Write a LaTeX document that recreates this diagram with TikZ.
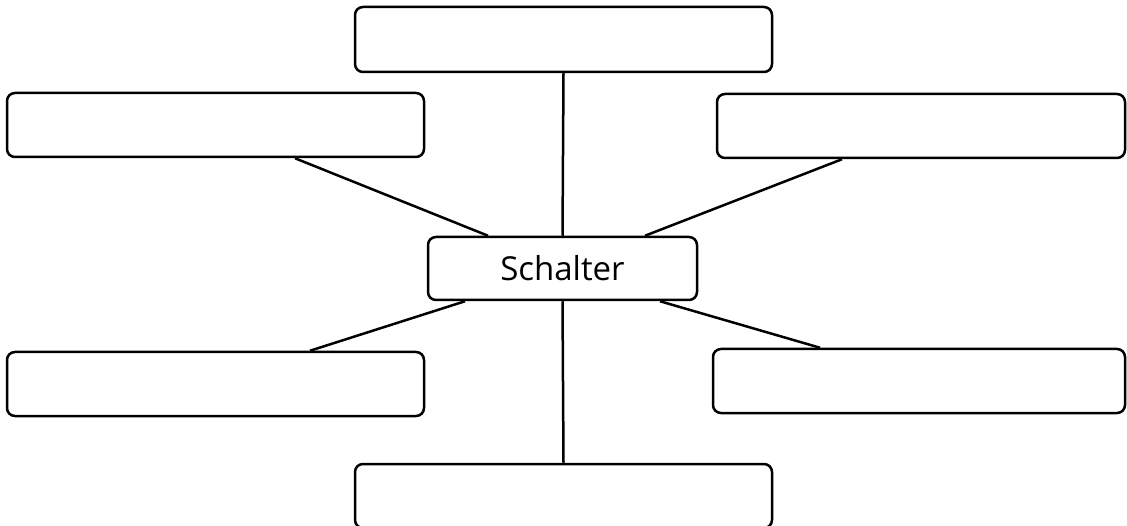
\documentclass[tikz,border=0pt]{standalone}
\usepackage{fontspec}
\setmainfont{Open Sans}
\begin{document}
\begin{tikzpicture}[x=1pt,y=-1pt,
  box/.style={draw=black,line width=2.5pt,rounded corners=8pt,fill=white,inner sep=0pt,minimum height=64pt},
  conn/.style={draw=black,line width=2.5pt}]
\useasboundingbox (0,0) rectangle (1127,526);
\clip (0,0) rectangle (1127,526);
\node[box,minimum width=269pt,minimum height=63pt,font=\fontsize{33}{40}\selectfont] (c) at (562.5,268.5) {Schalter};
\node[box,minimum width=417pt,minimum height=65pt] (top) at (563.5,39.5) {};
\node[box,minimum width=417pt] (tl) at (215.5,125) {};
\node[box,minimum width=408pt] (tr) at (921,126) {};
\node[box,minimum width=417pt] (bl) at (215.5,384) {};
\node[box,minimum width=412pt] (br) at (919,381) {};
\node[box,minimum width=417pt] (bot) at (563.5,496) {};
\draw[conn] (top.south) -- (c.north);
\draw[conn] ([xshift=79.5pt]tl.south) -- ([xshift=-74.5pt]c.north);
\draw[conn] ([xshift=-79pt]tr.south) -- ([xshift=82.5pt]c.north);
\draw[conn] ([xshift=94.5pt]bl.north) -- ([xshift=-97.5pt]c.south);
\draw[conn] ([xshift=-99pt]br.north) -- ([xshift=97.5pt]c.south);
\draw[conn] (c.south) -- (bot.north);
\end{tikzpicture}
\end{document}
